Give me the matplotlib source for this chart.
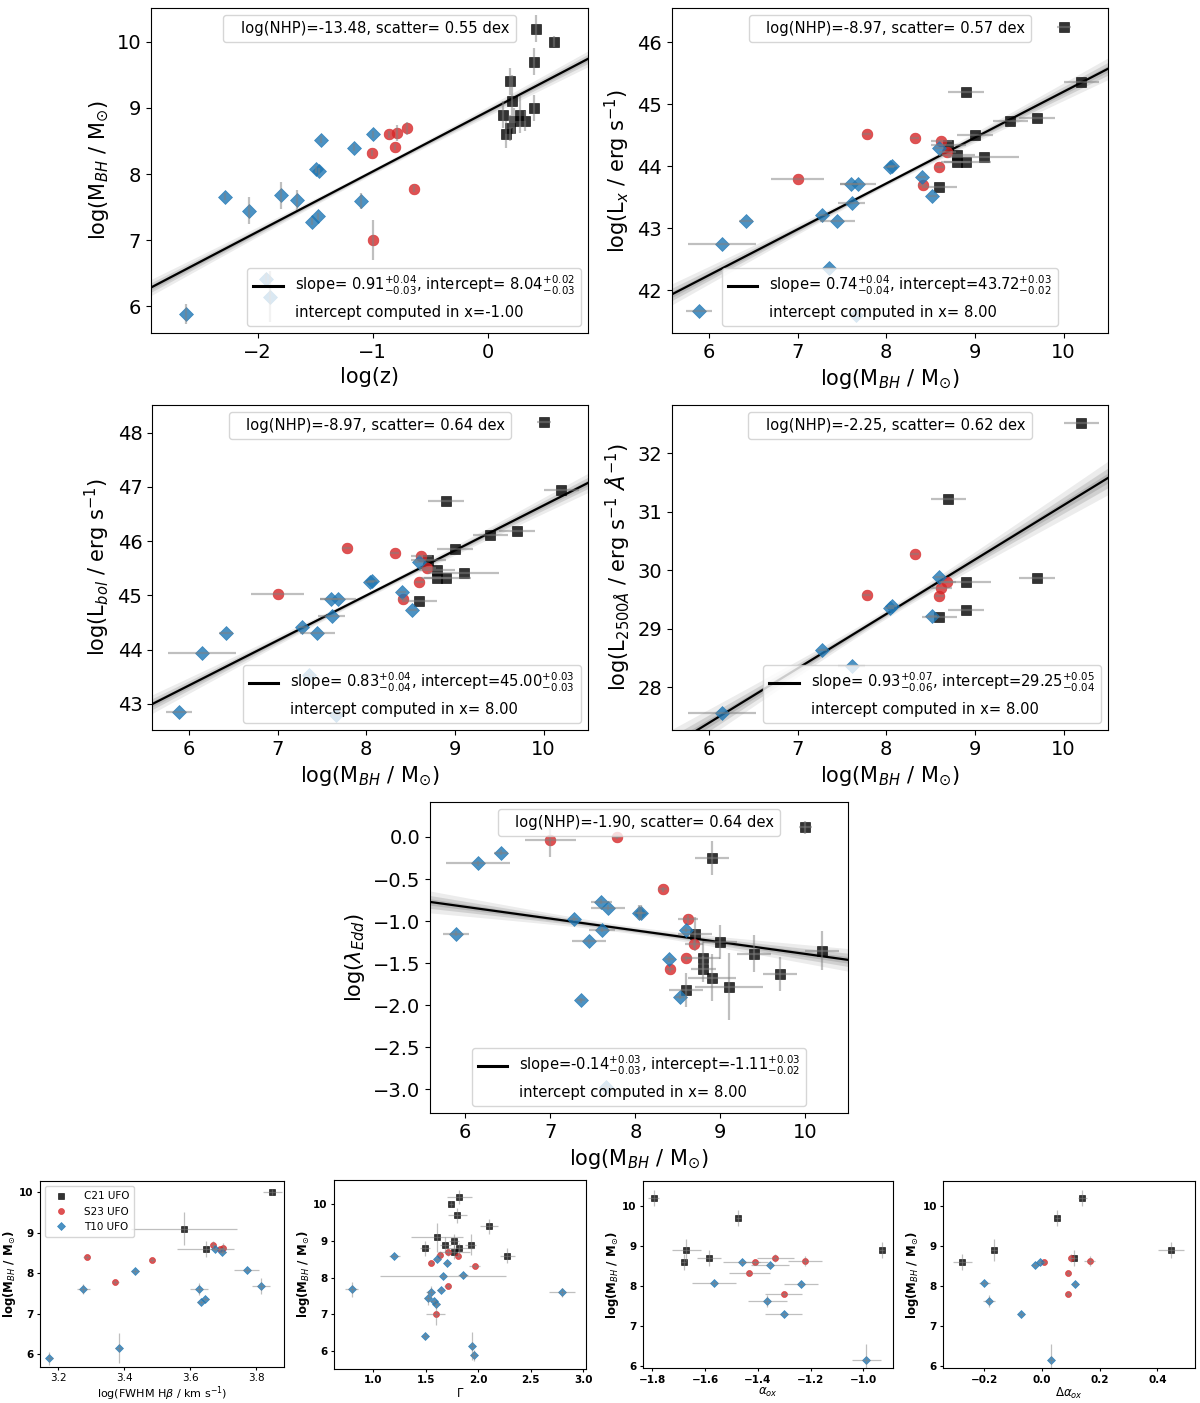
import numpy as np
import matplotlib.pyplot as plt
from matplotlib.lines import Line2D
from matplotlib.ticker import MultipleLocator

nan = np.nan

# ---------------- C21 UFO (black squares) ----------------
mbh_c21 = [10.2, 10.0, 9.7, 9.4, 9.1, 9.0, 8.9, 8.9, 8.8, 8.8, 8.7, 8.6]
mbh_err_c21 = [0.2, 0.08, 0.2, 0.2, 0.4, 0.2, 0.2, 0.28, 0.2, 0.15, 0.2, 0.2]
logz_c21 = [0.417, 0.574, 0.397, 0.194, 0.211, 0.403, 0.130, 0.281, 0.223, 0.324, 0.188, 0.159]
lx_c21 = [45.36, 46.24, 44.77, 44.73, 44.14, 44.50, 45.20, 44.06, 44.18, 44.06, 44.34, 43.66]
lbol_c21 = [46.95, 48.20, 46.18, 46.11, 45.42, 45.85, 46.75, 45.33, 45.47, 45.33, 45.65, 44.89]
l2500_c21 = [32.51, nan, 29.86, nan, nan, nan, 29.32, 29.79, nan, nan, 31.22, 29.20]
ledd_c21 = [-1.35, 0.115, -1.63, -1.39, -1.78, -1.25, -0.25, -1.67, -1.44, -1.57, -1.15, -1.82]
ledd_err_c21 = [0.23, 0.08, 0.2, 0.22, 0.4, 0.2, 0.2, 0.28, 0.2, 0.15, 0.2, 0.2]
fwhm_c21 = [nan, 3.848, nan, nan, 3.580, nan, nan, nan, nan, nan, nan, 3.646]
fwhm_err_c21 = [0, 0.028, 0, 0, 0.16, 0, 0, 0, 0, 0, 0, 0.085]
gamma_c21 = [1.818, 1.742, 1.80, 2.10, 1.608, 1.768, 1.685, 1.927, 1.49, 1.82, 1.768, 2.277]
gamma_err_c21 = [0.12, 0.02, 0.09, 0.085, 0.25, 0.05, 0.05, 0.05, 0.05, 0.14, 0.15, 0.07]
aox_c21 = [-1.796, nan, -1.474, nan, nan, nan, -0.930, -1.671, nan, nan, -1.586, -1.681]
aox_err_c21 = [0.02, 0, 0.01, 0, 0, 0, 0.01, 0.054, 0, 0, 0.045, 0.01]
daox_c21 = [0.140, nan, 0.054, nan, nan, nan, 0.447, -0.165, nan, nan, 0.111, -0.275]
daox_err_c21 = [0.015, 0, 0.01, 0, 0, 0, 0.046, 0.01, 0, 0, 0.01, 0.032]

# ---------------- S23 UFO (red circles) ----------------
mbh_s23 = [8.60, 8.62, 8.69, 8.32, 8.41, 7.78, 7.00]
mbh_err_s23 = [0.05, 0.12, 0.1, 0.05, 0.05, 0.05, 0.3]
logz_s23 = [-0.856, -0.791, -0.702, -1.009, -0.809, -0.638, -0.997]
lx_s23 = [43.98, 44.41, 44.22, 44.45, 43.69, 44.52, 43.80]
lbol_s23 = [45.25, 45.73, 45.50, 45.78, 44.93, 45.87, 45.03]
l2500_s23 = [29.55, 29.69, 29.80, 30.27, nan, 29.57, nan]
ledd_s23 = [-1.44, -0.98, -1.27, -0.62, -1.57, 0.00, -0.04]
ledd_err_s23 = [0.03, 0.05, 0.05, 0.03, 0.03, 0.03, 0.2]
fwhm_s23 = [3.689, 3.699, 3.668, 3.484, 3.286, 3.373, nan]
fwhm_err_s23 = [0.01, 0.01, 0.01, 0.01, 0.01, 0.01, 0]
gamma_s23 = [1.803, 1.63, 1.713, 1.965, 1.551, 1.707, 1.592]
gamma_err_s23 = [0.03, 0.03, 0.03, 0.05, 0.03, 0.03, 0.09]
aox_s23 = [-1.411, -1.221, -1.334, -1.432, nan, -1.302, nan]
aox_err_s23 = [0.05, 0.066, 0.07, 0.078, 0, 0.07, 0]
daox_s23 = [0.009, 0.165, 0.102, 0.092, nan, 0.091, nan]
daox_err_s23 = [0.01, 0.02, 0.01, 0.01, 0, 0.01, 0]

# ---------------- T10 UFO (blue diamonds) ----------------
mbh_t10 = [8.60, 8.52, 8.40, 8.07, 8.04, 7.68, 7.66, 7.61, 7.60, 7.45, 7.36, 7.28, 6.42, 6.15, 5.89]
mbh_err_t10 = [0.05, 0.05, 0.05, 0.05, 0.05, 0.2, 0.05, 0.15, 0.12, 0.2, 0.05, 0.05, 0.08, 0.38, 0.15]
logz_t10 = [-0.995, -1.447, -1.16, -1.496, -1.467, -1.797, -2.282, -1.658, -1.104, -2.076,
            -1.478, -1.525, -1.93, -1.893, -2.626]
lx_t10 = [44.30, 43.52, 43.82, 44.00, 43.98, 43.71, 41.60, 43.40, 43.71, 43.11, 42.35, 43.21, 43.11, 42.74, 41.67]
lbol_t10 = [45.61, 44.73, 45.06, 45.27, 45.25, 44.94, 42.79, 44.62, 44.94, 44.31, 43.54, 44.41, 44.31, 43.93, 42.86]
l2500_t10 = [29.89, 29.22, nan, 29.39, 29.35, nan, nan, 28.37, nan, nan, nan, 28.64, nan, 27.56, nan]
ledd_t10 = [-1.10, -1.90, -1.45, -0.90, -0.90, -0.84, -2.97, -1.10, -0.77, -1.24, -1.94, -0.97, -0.19, -0.31, -1.15]
ledd_err_t10 = [0.03, 0.03, 0.03, 0.09, 0.09, 0.03, 0.03, 0.03, 0.03, 0.03, 0.03, 0.03, 0.03, 0.03, 0.03]
fwhm_t10 = [3.675, 3.697, nan, 3.771, 3.432, 3.813, nan, 3.626, 3.276, nan, 3.645, 3.631, nan, 3.383, 3.173]
fwhm_err_t10 = [0.01, 0.01, 0, 0.038, 0.012, 0.028, 0, 0.027, 0.02, 0, 0.01, 0.01, 0, 0.01, 0.01]
gamma_t10 = [1.20, 1.605, 1.704, 1.854, 1.659, 0.793, 1.64, 1.545, 2.796, 1.516, 1.573, 1.60, 1.49, 1.936, 1.955]
gamma_err_t10 = [0.05, 0.03, 0.03, 0.05, 0.6, 0.06, 0.03, 0.04, 0.12, 0.03, 0.03, 0.03, 0.03, 0.03, 0.03]
aox_t10 = [-1.461, -1.355, nan, -1.567, -1.235, nan, nan, -1.364, nan, nan, nan, -1.301, nan, -0.988, nan]
aox_err_t10 = [0.07, 0.072, 0, 0.083, 0.065, 0, 0, 0.073, 0, 0, 0, 0.07, 0, 0.055, 0]
daox_t10 = [-0.008, -0.023, nan, -0.199, 0.114, nan, nan, -0.182, nan, nan, nan, -0.072, nan, 0.032, nan]
daox_err_t10 = [0.01, 0.01, 0, 0.02, 0.01, 0, 0, 0.02, 0, 0, 0, 0.01, 0, 0.01, 0]

# ---------------- fits shown in the legends ----------------
fit_slope = [0.91, 0.74, 0.83, 0.93, -0.14]
fit_slope_up = [0.04, 0.04, 0.04, 0.07, 0.03]
fit_slope_lo = [0.03, 0.04, 0.04, 0.06, 0.03]
fit_icpt = [8.04, 43.72, 45.00, 29.25, -1.11]
fit_icpt_up = [0.02, 0.03, 0.03, 0.05, 0.03]
fit_icpt_lo = [0.03, 0.02, 0.03, 0.04, 0.02]
fit_pivot = [-1.00, 8.00, 8.00, 8.00, 8.00]
log_nhp = [-13.48, -8.97, -8.97, -2.25, -1.90]
scatter_dex = [0.55, 0.57, 0.64, 0.62, 0.64]


def sample(label, marker, color, ms, **cols):
    d = dict(label=label, marker=marker, color=color, ms=ms)
    d.update(cols)
    return d


samples = [
    sample('C21 UFO', 's', 'k', 7.7, mbh=mbh_c21, mbh_err=mbh_err_c21, logz=logz_c21, lx=lx_c21,
           lbol=lbol_c21, l2500=l2500_c21, ledd=ledd_c21, ledd_err=ledd_err_c21,
           fwhm=fwhm_c21, fwhm_err=fwhm_err_c21, gamma=gamma_c21, gamma_err=gamma_err_c21,
           aox=aox_c21, aox_err=aox_err_c21, daox=daox_c21, daox_err=daox_err_c21),
    sample('S23 UFO', 'o', 'tab:red', 7.7, mbh=mbh_s23, mbh_err=mbh_err_s23, logz=logz_s23, lx=lx_s23,
           lbol=lbol_s23, l2500=l2500_s23, ledd=ledd_s23, ledd_err=ledd_err_s23,
           fwhm=fwhm_s23, fwhm_err=fwhm_err_s23, gamma=gamma_s23, gamma_err=gamma_err_s23,
           aox=aox_s23, aox_err=aox_err_s23, daox=daox_s23, daox_err=daox_err_s23),
    sample('T10 UFO', 'D', 'tab:blue', 6.8, mbh=mbh_t10, mbh_err=mbh_err_t10, logz=logz_t10, lx=lx_t10,
           lbol=lbol_t10, l2500=l2500_t10, ledd=ledd_t10, ledd_err=ledd_err_t10,
           fwhm=fwhm_t10, fwhm_err=fwhm_err_t10, gamma=gamma_t10, gamma_err=gamma_err_t10,
           aox=aox_t10, aox_err=aox_err_t10, daox=daox_t10, daox_err=daox_err_t10),
]

MBH_LABEL = r'log(M$_{BH}$ / M$_{\odot}$)'


def draw_points(ax, xkey, ykey, xerr_key=None, yerr_key=None, scale=1.0, elw=1.6):
    for s in samples:
        x = np.asarray(s[xkey], float)
        y = np.asarray(s[ykey], float)
        ok = np.isfinite(x) & np.isfinite(y)
        xe = np.asarray(s[xerr_key], float)[ok] if xerr_key else None
        ye = np.asarray(s[yerr_key], float)[ok] if yerr_key else None
        ax.plot(x[ok], y[ok], s['marker'], color=s['color'], alpha=0.8, ms=s['ms'] * scale,
                mew=0.5, zorder=3, label=s['label'])
        ax.errorbar(x[ok], y[ok], xerr=xe, yerr=ye, fmt='none', ecolor='grey',
                    elinewidth=elw, alpha=0.5, zorder=4)


def draw_fit(ax, i, xlim, fit_loc):
    x0 = fit_pivot[i]
    xx = np.linspace(xlim[0], xlim[1], 300)
    yy = fit_icpt[i] + fit_slope[i] * (xx - x0)
    ds = 0.5 * (fit_slope_up[i] + fit_slope_lo[i])
    di = 0.5 * (fit_icpt_up[i] + fit_icpt_lo[i])
    sig = np.hypot(di, ds * (xx - x0))
    for k, a in ((1.7, 0.15), (1.0, 0.25), (0.5, 0.3)):
        ax.fill_between(xx, yy - k * sig, yy + k * sig, color='grey', alpha=a, lw=0, zorder=1)
    ax.plot(xx, yy, color='k', lw=1.6, zorder=2)

    empty = Line2D([], [], ls='none')
    top = ax.legend([empty], ['log(NHP)=%.2f, scatter= %.2f dex' % (log_nhp[i], scatter_dex[i])],
                    loc='upper center', handlelength=0, fontsize=10.6)
    ax.add_artist(top)
    handle = Line2D([], [], color='k', lw=2.2)
    txt = 'slope=%5.2f$^{+%.2f}_{-%.2f}$, intercept=%5.2f$^{+%.2f}_{-%.2f}$' % (
        fit_slope[i], fit_slope_up[i], fit_slope_lo[i], fit_icpt[i], fit_icpt_up[i], fit_icpt_lo[i])
    ax.legend([handle, empty], [txt, 'intercept computed in x=%5.2f' % x0], loc=fit_loc,
              fontsize=10.6)


fig = plt.figure(figsize=(12, 14.03), dpi=100)

mbh_xlim = (5.585, 10.50)
big = [
    # rect, xkey, ykey, xerr, yerr, xlim, ylim, xlabel, ylabel, legend loc
    ([0.1258, 0.7627, 0.3642, 0.2316], 'logz', 'mbh', None, 'mbh_err', (-2.928, 0.87), (5.60, 10.51),
     'log(z)', MBH_LABEL, 'lower right'),
    ([0.5600, 0.7627, 0.3633, 0.2316], 'mbh', 'lx', 'mbh_err', None, mbh_xlim, (41.31, 46.55),
     MBH_LABEL, r'log(L$_x$ / erg s$^{-1}$)', 'lower center'),
    ([0.1267, 0.4797, 0.3633, 0.2316], 'mbh', 'lbol', 'mbh_err', None, mbh_xlim, (42.52, 48.51),
     MBH_LABEL, r'log(L$_{bol}$ / erg s$^{-1}$)', 'lower right'),
    ([0.5600, 0.4797, 0.3633, 0.2316], 'mbh', 'l2500', 'mbh_err', None, mbh_xlim, (27.27, 32.82),
     MBH_LABEL, r'log(L$_{2500\AA}$ / erg s$^{-1}$ $\AA^{-1}$)', 'lower right'),
    ([0.3583, 0.2067, 0.3483, 0.2217], 'mbh', 'ledd', 'mbh_err', 'ledd_err', mbh_xlim, (-3.28, 0.416),
     MBH_LABEL, r'log($\lambda_{Edd}$)', 'lower center'),
]

for i, (rect, xk, yk, xe, ye, xlim, ylim, xl, yl, loc) in enumerate(big):
    ax = fig.add_axes(rect)
    draw_points(ax, xk, yk, xe, ye)
    draw_fit(ax, i, xlim, loc)
    ax.set_xlim(xlim)
    ax.set_ylim(ylim)
    if yk == 'ledd':
        ax.yaxis.set_major_locator(MultipleLocator(0.5))
    ax.set_xlabel(xl, fontsize=15)
    ax.set_ylabel(yl, fontsize=15)
    ax.tick_params(labelsize=14)

small = [
    ([0.0333, 0.0257, 0.2033, 0.1326], 'fwhm', 'fwhm_err', (3.145, 3.883), (5.68, 10.28),
     [3.2, 3.4, 3.6, 3.8], r'log(FWHM H$\beta$ / km s$^{-1}$)'),
    ([0.2783, 0.0242, 0.2100, 0.1347], 'gamma', 'gamma_err', (0.624, 3.025), (5.51, 10.66),
     [1.0, 1.5, 2.0, 2.5, 3.0], r'$\Gamma$'),
    ([0.5356, 0.0247, 0.2083, 0.1335], 'aox', 'aox_err', (-1.837, -0.888), (5.93, 10.62),
     [-1.8, -1.6, -1.4, -1.2, -1.0], r'$\alpha_{ox}$'),
    ([0.7861, 0.0247, 0.2097, 0.1335], 'daox', 'daox_err', (-0.341, 0.530), (5.93, 10.62),
     [-0.2, 0.0, 0.2, 0.4], r'$\Delta\alpha_{ox}$'),
]

for j, (rect, xk, xe, xlim, ylim, xt, xl) in enumerate(small):
    ax = fig.add_axes(rect)
    draw_points(ax, xk, 'mbh', xe, 'mbh_err', scale=0.56, elw=0.9)
    ax.set_xlim(xlim)
    ax.set_ylim(ylim)
    ax.set_xticks(xt)
    ax.set_yticks([6, 7, 8, 9, 10])
    ax.tick_params(labelsize=7.5, length=2.5, pad=2)
    ax.set_xlabel(xl, fontsize=8.5 if j else 8, labelpad=1)
    ax.set_ylabel(MBH_LABEL, fontsize=8.5, fontweight='bold', labelpad=1)
    plt.setp(ax.get_yticklabels(), fontweight='bold')
    if j > 0:
        plt.setp(ax.get_xticklabels(), fontweight='bold')
    else:
        ax.legend(loc='upper left', fontsize=7.5, handletextpad=1.2, borderpad=0.5)

fig.savefig('out.png', dpi=100)
